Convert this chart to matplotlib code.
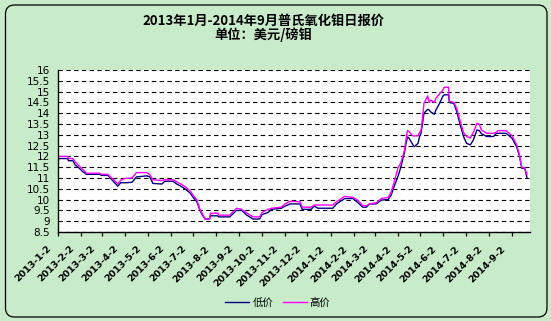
import matplotlib
matplotlib.use("Agg")
import matplotlib.pyplot as plt
import matplotlib.dates as mdates
from matplotlib.patches import FancyBboxPatch
from matplotlib.transforms import ScaledTranslation
import numpy as np
import pandas as pd

plt.rcParams['font.family'] = ['Noto Sans CJK SC', 'DejaVu Sans']

title_text = "2013年1月-2014年9月普氏氧化钼日报价\n单位：美元/磅钼"
series_names = ["低价", "高价"]

dates = [
    "2013-01-02", "2013-01-03", "2013-01-15", "2013-01-16", "2013-01-22", "2013-01-25",
    "2013-01-29", "2013-02-04", "2013-02-09", "2013-02-27", "2013-03-01", "2013-03-10",
    "2013-03-13", "2013-03-17", "2013-03-21", "2013-03-23", "2013-03-27", "2013-04-02",
    "2013-04-11", "2013-04-17", "2013-05-01", "2013-05-05", "2013-05-09", "2013-05-21",
    "2013-05-25", "2013-06-05", "2013-06-10", "2013-06-14", "2013-06-21", "2013-06-28",
    "2013-07-02", "2013-07-07", "2013-07-11", "2013-07-15", "2013-07-18", "2013-07-24",
    "2013-07-25", "2013-08-04", "2013-08-05", "2013-08-20", "2013-08-29", "2013-09-05",
    "2013-09-11", "2013-09-20", "2013-09-29", "2013-10-02", "2013-10-10", "2013-10-15",
    "2013-10-28", "2013-11-02", "2013-11-09", "2013-11-22", "2013-11-25", "2013-12-07",
    "2013-12-11", "2013-12-16", "2014-01-05", "2014-01-10", "2014-01-21", "2014-02-01",
    "2014-02-08", "2014-02-14", "2014-02-19", "2014-02-23", "2014-03-04", "2014-03-11",
    "2014-03-20", "2014-03-24", "2014-03-28", "2014-04-02", "2014-04-06", "2014-04-11",
    "2014-04-13", "2014-04-15", "2014-04-17", "2014-04-22", "2014-04-24", "2014-04-29",
    "2014-05-01", "2014-05-03", "2014-05-05", "2014-05-07", "2014-05-12", "2014-05-14",
    "2014-05-16", "2014-05-21", "2014-05-23", "2014-05-28", "2014-06-01", "2014-06-03",
    "2014-06-09", "2014-06-10", "2014-06-16", "2014-06-20", "2014-06-24", "2014-06-29",
    "2014-07-03", "2014-07-08", "2014-07-12", "2014-07-17", "2014-07-20", "2014-07-23",
    "2014-07-30", "2014-08-08", "2014-08-12", "2014-08-14", "2014-08-25", "2014-09-02",
    "2014-09-08", "2014-09-12", "2014-09-15", "2014-09-19", "2014-09-22",
]

low_price = [
    11.80, 11.90, 11.90, 11.80, 11.80, 11.60,
    11.50, 11.30, 11.17, 11.17, 11.12, 11.12,
    11.00, 10.85, 10.70, 10.62, 10.78, 10.78,
    10.80, 11.05, 11.10, 11.05, 10.75, 10.72,
    10.85, 10.85, 10.72, 10.65, 10.50, 10.30,
    10.10, 9.90, 9.50, 9.25, 9.10, 9.10,
    9.25, 9.25, 9.20, 9.20, 9.50, 9.50,
    9.30, 9.10, 9.10, 9.30, 9.40, 9.55,
    9.60, 9.70, 9.80, 9.80, 9.55, 9.55,
    9.70, 9.60, 9.60, 9.80, 10.05, 10.05,
    9.85, 9.65, 9.65, 9.80, 9.80, 9.98,
    10.00, 10.20, 10.60, 11.05, 11.50, 12.20,
    12.60, 12.90, 12.85, 12.55, 12.45, 12.60,
    12.90, 13.07, 13.50, 14.00, 14.18, 14.15,
    14.06, 13.95, 14.15, 14.46, 14.77, 14.85,
    14.85, 14.50, 14.45, 14.07, 13.53, 12.92,
    12.61, 12.53, 12.75, 13.22, 13.20, 13.05,
    12.92, 12.92, 13.07, 13.07, 13.07, 12.84,
    12.45, 12.00, 11.45, 11.45, 11.00,
]

high_price = [
    11.95, 12.00, 12.00, 11.90, 11.90, 11.75,
    11.60, 11.40, 11.22, 11.22, 11.17, 11.17,
    11.05, 10.95, 10.80, 10.72, 10.90, 10.98,
    11.00, 11.25, 11.25, 11.15, 10.92, 10.88,
    10.92, 10.92, 10.82, 10.75, 10.60, 10.40,
    10.20, 9.98, 9.55, 9.30, 9.10, 9.10,
    9.37, 9.37, 9.28, 9.28, 9.60, 9.55,
    9.40, 9.20, 9.20, 9.40, 9.55, 9.60,
    9.65, 9.80, 9.92, 9.90, 9.65, 9.65,
    9.75, 9.75, 9.75, 9.90, 10.15, 10.10,
    9.95, 9.72, 9.72, 9.80, 9.85, 10.05,
    10.10, 10.35, 10.80, 11.45, 11.70, 12.30,
    12.80, 13.20, 13.15, 12.95, 12.95, 12.95,
    13.10, 13.20, 13.76, 14.46, 14.80, 14.50,
    14.60, 14.50, 14.70, 14.90, 15.05, 15.20,
    15.20, 14.55, 14.50, 14.20, 13.70, 13.10,
    12.92, 12.85, 13.10, 13.53, 13.50, 13.22,
    13.07, 13.07, 13.12, 13.19, 13.19, 12.95,
    12.55, 12.05, 11.50, 11.45, 11.15,
]

tick_labels = [
    "2013-1-2", "2013-2-2", "2013-3-2", "2013-4-2", "2013-5-2", "2013-6-2",
    "2013-7-2", "2013-8-2", "2013-9-2", "2013-10-2", "2013-11-2", "2013-12-2",
    "2014-1-2", "2014-2-2", "2014-3-2", "2014-4-2", "2014-5-2", "2014-6-2",
    "2014-7-2", "2014-8-2", "2014-9-2",
]
x_start = "2013-01-02"
x_end = "2014-09-26"
y_ticks = [8.5, 9, 9.5, 10, 10.5, 11, 11.5, 12, 12.5, 13, 13.5, 14, 14.5, 15, 15.5, 16]

W, H = 551, 321
GREEN = "#C8EBCA"
fig = plt.figure(figsize=(W / 100, H / 100), dpi=100)
fig.patch.set_facecolor(GREEN)

bg = FancyBboxPatch((0.055, 0.04), 5.415, 3.12,
                    boxstyle="round,pad=0,rounding_size=0.09",
                    transform=fig.dpi_scale_trans, facecolor=GREEN,
                    edgecolor="black", linewidth=0.9, zorder=-10)
fig.add_artist(bg)

ax = fig.add_axes([58 / W, 1 - 232 / H, (530 - 58) / W, (232 - 70) / H])
ax.set_facecolor("white")

x = pd.to_datetime(dates)
ax.plot(x, low_price, color="#000080", linewidth=1.0, label=series_names[0])
ax.plot(x, high_price, color="#FF00FF", linewidth=1.0, label=series_names[1])

ax.set_xlim(pd.Timestamp(x_start), pd.Timestamp(x_end))
ax.set_ylim(8.5, 16)
ax.set_yticks(y_ticks)
ax.set_yticklabels([f"{v:g}" for v in y_ticks], fontsize=7.5, family=["DejaVu Sans"])
ax.tick_params(axis="y", length=0, pad=6)

tick_pos = [pd.Timestamp(*[int(p) for p in t.split("-")]) for t in tick_labels]
ax.set_xticks(tick_pos)
ax.set_xticklabels(tick_labels, rotation=45, ha="right", va="center",
                   rotation_mode="anchor", fontsize=6.8, fontweight="bold",
                   family=["DejaVu Sans"])
ax.tick_params(axis="x", length=3, width=0.9, pad=8, direction="out")
off = ScaledTranslation(-0.08, 0, fig.dpi_scale_trans)
for lbl in ax.get_xticklabels():
    lbl.set_transform(lbl.get_transform() + off)

ax.grid(axis="y", color="black", linestyle=(0, (4, 3)), linewidth=0.8)
ax.grid(axis="x", visible=False)
ax.set_axisbelow(True)
for s in ["top", "right"]:
    ax.spines[s].set_visible(False)
for s in ["left", "bottom"]:
    ax.spines[s].set_linewidth(1.0)
    ax.spines[s].set_color("black")

fig.text(263 / W, 1 - 28 / H, title_text, ha="center", va="center",
         fontsize=9.5, fontweight="bold", linespacing=1.0,
         family=["Noto Sans CJK SC", "DejaVu Sans"])

fig.legend(loc="center", bbox_to_anchor=(278 / W, 1 - 303 / H), ncol=2,
           frameon=False, fontsize=7.5, handlelength=2.3, handletextpad=0.3,
           columnspacing=0.9, borderaxespad=0)

fig.savefig("out.png", dpi=100, facecolor=fig.get_facecolor())
